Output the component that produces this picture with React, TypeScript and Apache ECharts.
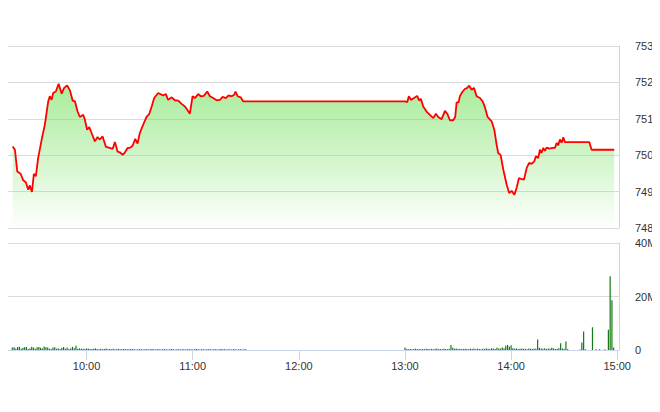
import React, { useEffect, useRef } from "react";
import * as echarts from "echarts";

// time in minutes since midnight
const priceTimes = [
  558.2, 559.5, 560.8, 562.7, 564.2, 565.7, 567.0, 567.9, 569.1, 570.2, 571.3, 572.6, 574.6, 576.4,
  578.3, 579.2, 580.2, 581.1, 582.6, 584.2, 585.9, 587.3, 589.0, 590.6, 592.1, 593.4, 594.9, 596.2,
  598.1, 599.0, 600.3, 601.5, 602.8, 604.7, 606.2, 607.5, 609.0, 610.9, 613.2, 614.7, 616.0, 617.5,
  618.8, 620.4, 621.7, 623.2, 624.5, 626.0, 627.5, 628.8, 630.1, 632.0, 633.9, 635.4, 636.8, 638.2,
  640.5, 643.3, 644.8, 646.1, 648.1, 649.9, 651.8, 653.7, 655.6, 656.9, 658.4, 659.9, 661.2, 663.1,
  664.6, 666.3, 668.2, 669.7, 671.6, 673.5, 675.4, 676.9, 678.8, 680.1, 682.0, 683.5, 684.2, 685.4,
  687.1, 688.5, 690.0,
  780.0, 781.3, 782.2, 783.4, 785.1, 786.9, 788.1, 789.0, 790.3, 792.2, 794.1, 796.0, 797.5, 798.8,
  800.7, 802.6, 803.9, 805.4, 807.3, 808.4, 809.2, 810.3, 811.1, 812.6, 813.9, 815.2, 816.3, 817.7,
  819.0, 820.5, 822.4, 823.9, 825.2, 826.7, 829.0, 830.5, 831.8, 832.7, 834.1, 835.6, 837.5, 838.9,
  840.3, 841.8, 843.1, 844.4, 845.6, 847.3, 848.8, 850.2, 851.6, 853.1, 854.0, 855.3, 856.3, 857.2,
  858.2, 859.1, 860.1, 861.6, 863.5, 864.8, 865.8, 866.6, 867.6, 868.6, 869.5, 870.4, 884.2, 885.5,
  898.3,
];
const priceValues = [
  750.24, 750.15, 749.55, 749.49, 749.31, 749.25, 749.05, 749.17, 748.99, 749.49, 749.42, 749.92, 750.43, 750.84,
  751.48, 751.62, 751.52, 751.71, 751.75, 751.96, 751.69, 751.85, 751.92, 751.78, 751.50, 751.48, 751.20, 751.05,
  751.11, 750.98, 750.70, 750.77, 750.61, 750.38, 750.50, 750.43, 750.52, 750.23, 750.20, 750.17, 750.36, 750.10,
  750.08, 750.01, 750.08, 750.20, 750.20, 750.26, 750.45, 750.32, 750.61, 750.84, 751.05, 751.13, 751.34, 751.57,
  751.71, 751.64, 751.68, 751.52, 751.59, 751.51, 751.50, 751.41, 751.34, 751.25, 751.14, 751.62, 751.57, 751.68,
  751.62, 751.63, 751.75, 751.62, 751.57, 751.51, 751.52, 751.60, 751.57, 751.64, 751.62, 751.66, 751.75, 751.62,
  751.59, 751.48, 751.48,
  751.48, 751.46, 751.62, 751.52, 751.57, 751.63, 751.50, 751.55, 751.34, 751.20, 751.11, 751.02, 751.14, 751.05,
  750.99, 751.22, 751.14, 750.96, 750.96, 751.05, 751.45, 751.45, 751.63, 751.75, 751.82, 751.85, 751.91, 751.80,
  751.85, 751.62, 751.57, 751.48, 751.32, 751.05, 750.93, 750.70, 750.29, 750.06, 750.00, 749.60, 749.19, 748.96,
  749.02, 748.91, 749.10, 749.37, 749.35, 749.33, 749.65, 749.79, 749.76, 749.83, 749.97, 749.92, 750.15, 750.06,
  750.20, 750.12, 750.21, 750.18, 750.20, 750.20, 750.34, 750.27, 750.43, 750.34, 750.49, 750.36, 750.36, 750.15,
  750.15,
];

// volume in millions, one bar per minute
const morningVolStart = 558;
const morningVol = [
  0.9, 1.0, 0.6, 1.1, 1.2, 0.5, 0.8, 1.0, 1.1, 0.4, 0.7, 1.2, 0.9, 0.5, 1.0, 1.1, 0.8, 0.6, 1.3, 1.0,
  0.9, 0.5, 0.4, 0.9, 1.0, 0.5, 0.6, 0.4, 0.8, 1.1, 0.5, 0.9, 0.4, 0.6, 1.2, 0.7, 1.6, 0.5,
  0.6, 0.5, 0.5, 0.4, 0.6, 0.5, 0.4, 0.4, 0.5, 0.6, 0.4, 0.3, 0.5, 0.3, 0.4, 0.6, 0.3, 0.4, 0.3, 0.5,
  0.3, 0.3, 0.4, 0.3, 0.3, 0.4, 0.3, 0.3, 0.3, 0.4, 0.3, 0.3, 0.2, 0.3, 0.3,
  0.3, 0.2, 0.3, 0.3, 0.2, 0.3, 0.4, 0.3, 0.2, 0.3, 0.3, 0.2, 0.3, 0.3, 0.3, 0.2, 0.3, 0.4, 0.3, 0.2,
  0.3, 0.3, 0.2, 0.3, 0.3, 0.2, 0.3, 0.3, 0.3, 0.2, 0.3, 0.4, 0.3, 0.2, 0.3, 0.3, 0.2, 0.3, 0.3, 0.3,
  0.2, 0.3, 0.3, 0.2, 0.3, 0.4, 0.3, 0.3, 0.2, 0.3, 0.3, 0.2, 0.3, 0.3, 0.2, 0.3, 0.3, 0.2, 0.3, 0.3,
];
const afternoonVolStart = 780;
const afternoonVol = [
  0.9,
  0.4, 0.3, 0.4, 0.3, 0.4, 0.5, 0.3, 0.4, 0.3, 0.4, 0.3, 0.5, 0.4, 0.3, 0.4, 0.3, 0.4, 0.6, 0.3, 0.4,
  0.3, 0.5, 0.4, 0.3, 0.5,
  1.9, 0.8,
  0.5, 0.6, 0.4, 0.5, 0.3, 0.4, 0.5, 0.4, 0.3, 0.5, 0.4, 0.6, 0.3, 0.5, 0.4, 0.3, 0.5, 0.4, 0.6, 0.5,
  0.4, 0.7, 0.5, 0.4, 0.8, 0.6, 0.5, 0.9, 0.7,
  1.6, 1.9, 1.2, 1.8,
  0.7, 0.5, 0.6, 0.4, 0.5, 0.6, 0.4, 0.5, 0.3, 0.6, 0.5, 0.4, 0.6, 0.5,
  3.9,
  0.8, 0.6, 0.5, 0.7, 0.4, 0.6, 0.5, 0.8, 0.6, 0.4, 0.5, 0.7,
  2.5, 0.6, 0.5, 3.2, 0.4,
  0, 0, 0, 0, 0, 0, 0.2,
  2.8, 6.9,
  0.3, 0, 0, 0,
  8.5,
  0, 0.3, 0, 0.3, 0, 0, 0.3, 0,
  7.6, 27.6, 18.6, 0.9,
];

const timeTicks = [600, 660, 720, 780, 840, 900];

const FONT = "'Liberation Sans Narrow', 'Liberation Sans', Arial, sans-serif";

function fmtTime(v: number) {
  const h = Math.floor(v / 60);
  const m = Math.round(v - h * 60);
  return `${h}:${m < 10 ? "0" + m : m}`;
}

export default function App() {
  const ref = useRef<HTMLDivElement>(null);
  useEffect(() => {
    if (!ref.current) return;
    const chart = echarts.init(ref.current, undefined, { renderer: "svg" });
    const priceData = priceTimes.map((t, i) => [t, priceValues[i]]);
    const volData: number[][] = [];
    morningVol.forEach((v, i) => volData.push([morningVolStart + i, v * 1e6]));
    afternoonVol.forEach((v, i) => volData.push([afternoonVolStart + i, v * 1e6]));

    const axisLineColor = "#ccd6eb";
    const gridColor = "#dadada";
    const labelStyle = { color: "#333", fontSize: 11, fontFamily: FONT };

    chart.setOption({
      animation: false,
      grid: [
        { left: 7, right: 41, top: 46, height: 182 },
        { left: 7, right: 41, top: 243, height: 107 },
      ],
      xAxis: [
        {
          gridIndex: 0,
          type: "value",
          min: 555,
          max: 901,
          axisLine: { show: false },
          axisTick: { show: false },
          axisLabel: { show: false },
          splitLine: { show: false },
        },
        {
          gridIndex: 1,
          type: "value",
          min: 555,
          max: 901,
          axisLine: { show: true, lineStyle: { color: axisLineColor, width: 1 } },
          axisTick: {
            show: true,
            customValues: timeTicks,
            length: 10,
            lineStyle: { color: axisLineColor },
          },
          axisLabel: {
            ...labelStyle,
            customValues: timeTicks,
            margin: 10,
            formatter: (v: number) => fmtTime(v),
          },
          splitLine: { show: false },
        },
      ],
      yAxis: [
        {
          gridIndex: 0,
          type: "value",
          position: "right",
          min: 748,
          max: 753,
          interval: 1,
          axisLine: { show: true, lineStyle: { color: axisLineColor } },
          axisTick: { show: false },
          axisLabel: { ...labelStyle, margin: 16 },
          splitLine: { show: true, lineStyle: { color: gridColor, width: 1 } },
        },
        {
          gridIndex: 1,
          type: "value",
          position: "right",
          min: 0,
          max: 40e6,
          interval: 20e6,
          axisLine: { show: true, lineStyle: { color: axisLineColor } },
          axisTick: { show: false },
          axisLabel: {
            ...labelStyle,
            margin: 16,
            formatter: (v: number) => (v === 0 ? "0" : v / 1e6 + "M"),
          },
          splitLine: { show: true, lineStyle: { color: gridColor, width: 1 } },
        },
      ],
      series: [
        {
          type: "line",
          xAxisIndex: 0,
          yAxisIndex: 0,
          data: priceData,
          showSymbol: false,
          symbol: "none",
          lineStyle: { color: "#ff0000", width: 1.8 },
          areaStyle: {
            origin: "start",
            color: new echarts.graphic.LinearGradient(0, 0, 0, 1, [
              { offset: 0, color: "rgba(125,226,105,0.95)" },
              { offset: 0.6, color: "rgba(135,228,115,0.45)" },
              { offset: 1, color: "rgba(150,235,130,0.03)" },
            ]),
          },
        },
        {
          type: "bar",
          xAxisIndex: 1,
          yAxisIndex: 1,
          data: volData,
          barWidth: 1.2,
          itemStyle: { color: "#137a13" },
        },
      ],
    });
    return () => chart.dispose();
  }, []);
  return <div ref={ref} style={{ width: 660, height: 412, margin: -8 }} />;
}
